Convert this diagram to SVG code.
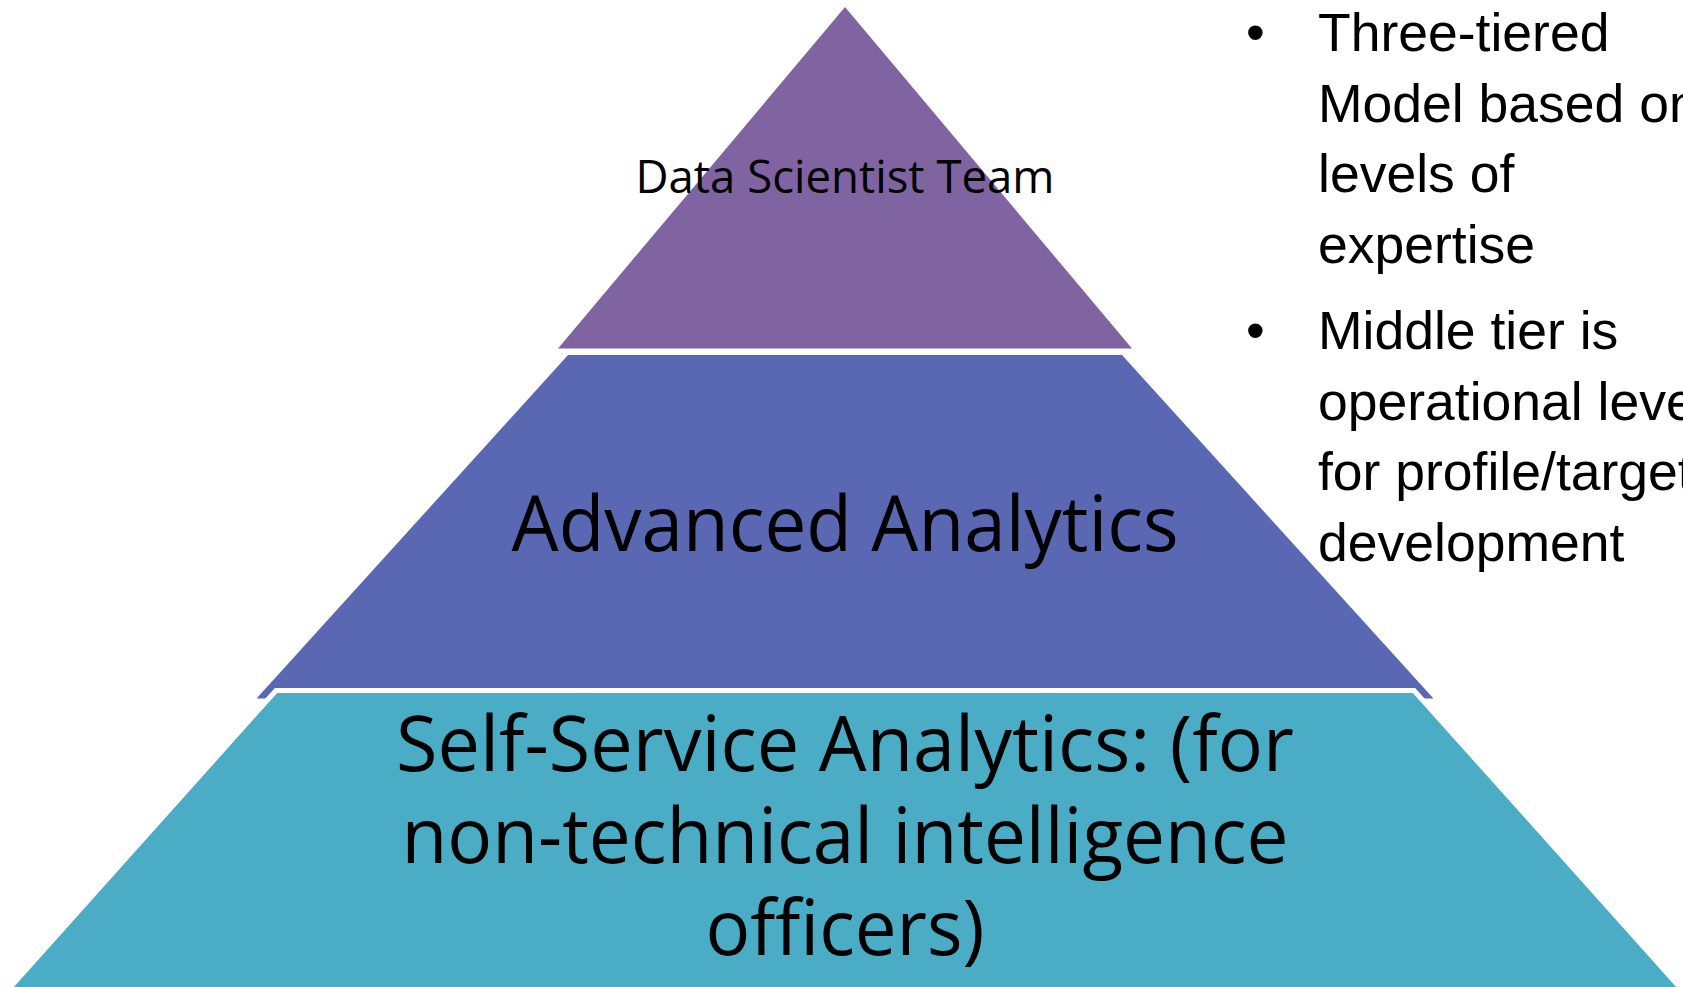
<svg xmlns="http://www.w3.org/2000/svg" width="1683" height="987" viewBox="0 0 1683 987">
<style>
.tier-text{font-family:"Open Sans","Noto Sans",sans-serif;fill:#000;text-anchor:middle}
.note{font-family:"Liberation Sans",Arial,sans-serif;font-size:53.5px;fill:#000}
</style>
<rect width="1683" height="987" fill="#fff"/>
<g id="tier-middle">
<polygon points="568,355 1122,355 1433.5,698.5 256.5,698.5" fill="#5A68B3"/>
<text class="tier-text" x="845" y="551" font-size="77" textLength="667" lengthAdjust="spacingAndGlyphs">Advanced Analytics</text>
</g>
<g id="tier-top">
<polygon points="845,7 558,348.5 1132,348.5" fill="#8064A2"/>
<text class="tier-text" x="845" y="193" font-size="45" textLength="419" lengthAdjust="spacingAndGlyphs">Data Scientist Team</text>
</g>
<g id="tier-bottom">
<polygon points="276,690.5 1414,690.5 1692,1001 -2,1001" fill="#4BACC6" stroke="#fff" stroke-width="5"/>
<text class="tier-text" x="845" y="771" font-size="76" textLength="898" lengthAdjust="spacingAndGlyphs">Self-Service Analytics: (for</text>
<text class="tier-text" x="845" y="863" font-size="76" textLength="887" lengthAdjust="spacingAndGlyphs">non-technical intelligence</text>
<text class="tier-text" x="845" y="955" font-size="76" textLength="279" lengthAdjust="spacingAndGlyphs">officers)</text>
</g>
<g id="notes">
<text class="note" x="1246" y="51">•</text>
<text class="note" x="1318" y="51">Three-tiered</text>
<text class="note" x="1318" y="121.5">Model based on</text>
<text class="note" x="1318" y="192">levels of</text>
<text class="note" x="1318" y="262.5">expertise</text>
<text class="note" x="1246" y="349">•</text>
<text class="note" x="1318" y="349">Middle tier is</text>
<text class="note" x="1318" y="419.5">operational level</text>
<text class="note" x="1318" y="490">for profile/target</text>
<text class="note" x="1318" y="560.5">development</text>
</g>
<g id="connectors"></g>
</svg>
